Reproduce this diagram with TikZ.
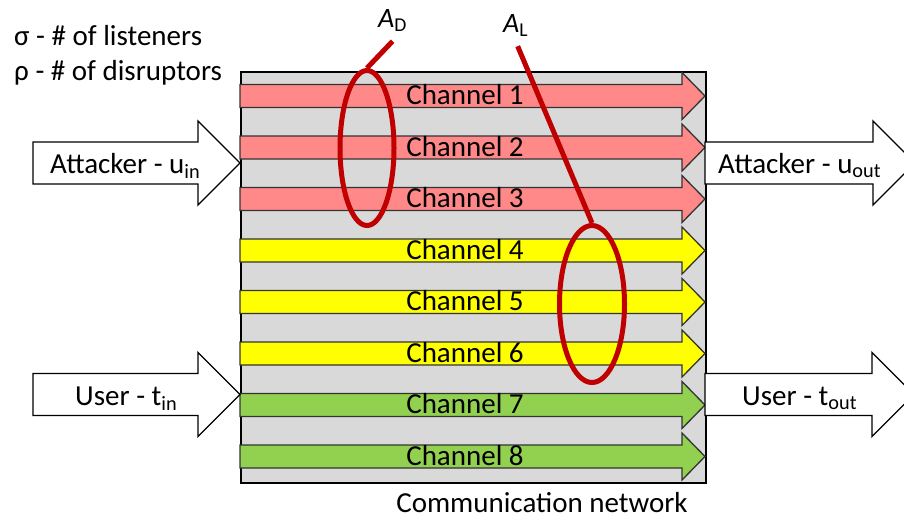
\documentclass[tikz,border=0pt]{standalone}
\usepackage{fontspec}
\setmainfont{Carlito}
\usetikzlibrary{shapes.geometric}

\definecolor{chred}{RGB}{255,136,136}
\definecolor{chyellow}{RGB}{255,255,0}
\definecolor{chgreen}{RGB}{146,208,80}
\definecolor{netgray}{RGB}{217,217,217}
\definecolor{ringred}{RGB}{192,0,0}

\tikzset{
  lbl/.style={inner sep=0pt, font=\fontsize{29}{34}\selectfont},
  setlbl/.style={inner sep=0pt, anchor=base west, font=\fontsize{28}{32}\selectfont},
  chanline/.style={draw=black!80, line width=1.3pt},
  bigline/.style={draw=black, line width=1.3pt, fill=white},
  ring/.style={draw=ringred, line width=5pt},
}

% channel arrow: name, centre y, colour, label
\newcommand{\chan}[4]{%
  \draw[chanline, fill=#3] (240,#2-11.5) -- (682,#2-11.5) -- (682,#2-23.5) -- (705,#2)
    -- (682,#2+23.5) -- (682,#2+11.5) -- (240,#2+11.5) -- cycle;
  \node[lbl, anchor=base] (#1) at (465,#2+8.5) {#4};
}
% big white arrow: tail x, head x, tip x, centre y
\newcommand{\bigarrow}[4]{%
  \draw[bigline] (#1,#4-21) -- (#2,#4-21) -- (#2,#4-42) -- (#3,#4)
    -- (#2,#4+42) -- (#2,#4+21) -- (#1,#4+21) -- cycle;
}

\begin{document}
\begin{tikzpicture}[x=1pt,y=-1pt]
\clip (0,0) rectangle (904,520);

\begin{scope}

% network box
\node[draw=black, line width=1.5pt, fill=netgray, minimum width=465, minimum height=411,
  inner sep=0pt, anchor=north west] (net) at (240,71) {};
\node[lbl, anchor=base] (netlbl) at (542,512) {Communication network};

\chan{ch1}{96}{chred}{Channel 1}
\chan{ch2}{147.5}{chred}{Channel 2}
\chan{ch3}{199}{chred}{Channel 3}
\chan{ch4}{250.5}{chyellow}{Channel 4}
\chan{ch5}{302}{chyellow}{Channel 5}
\chan{ch6}{353.5}{chyellow}{Channel 6}
\chan{ch7}{405}{chgreen}{Channel 7}
\chan{ch8}{456.5}{chgreen}{Channel 8}

% inputs and outputs
\bigarrow{33}{198}{240}{163}
\bigarrow{33}{198}{240}{394.5}
\bigarrow{705}{873}{915}{163}
\bigarrow{705}{872}{914}{394.5}
\node[lbl, anchor=base west] (uin) at (50,173) {Attacker - u\textsubscript{in}};
\node[lbl, anchor=base west] (tin) at (75,405) {User - t\textsubscript{in}};
\node[lbl, anchor=base west] (uout) at (718,173) {Attacker - u\textsubscript{out}};
\node[lbl, anchor=base west] (tout) at (742,405) {User - t\textsubscript{out}};

% legend
\node[lbl, anchor=base west] (sigma) at (14,45) {σ - \# of listeners};
\node[lbl, anchor=base west] (rho) at (14,80) {ρ - \# of disruptors};

% attacker sets
\node[ring, ellipse, inner sep=0pt, minimum width=54, minimum height=155] (ringD) at (367,148) {};
\node[ring, ellipse, inner sep=0pt, minimum width=65, minimum height=157] (ringL) at (592,304) {};
\node[setlbl] (labD) at (378,27) {\textit{A}\textsubscript{D}};
\node[setlbl] (labL) at (503,32) {\textit{A}\textsubscript{L}};
\draw[ring] ([xshift=0pt,yshift=-10pt]labD.south) -- (ringD.north);
\draw[ring] ([xshift=2pt,yshift=-10pt]labL.south) -- (ringL.north);

\end{scope};

\end{tikzpicture}
\end{document}
